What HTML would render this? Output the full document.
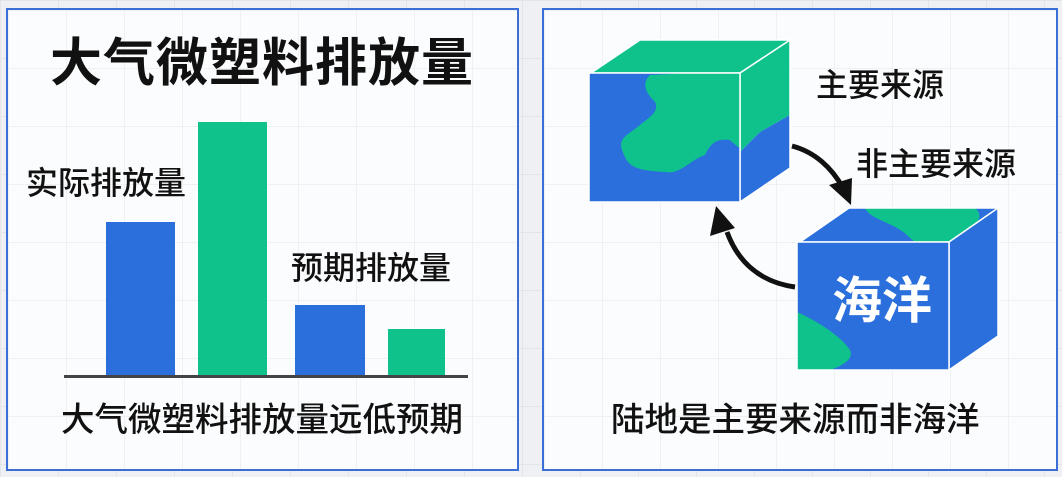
<!DOCTYPE html>
<html><head><meta charset="utf-8"><style>
html,body{margin:0;padding:0;}
body{width:1062px;height:477px;position:relative;overflow:hidden;background:#eef0f3;
background-image:linear-gradient(#e2e4e8 1px,transparent 1px),linear-gradient(90deg,#e2e4e8 1px,transparent 1px);background-size:58px 58px;
font-family:"Liberation Sans","Noto Sans CJK SC",sans-serif;}
.panel{position:absolute;border:2px solid #3a70d6;background:#fbfcfd;
background-image:linear-gradient(#eef0f2 1px,transparent 1px),linear-gradient(90deg,#eef0f2 1px,transparent 1px);background-size:58px 58px;box-sizing:border-box;}
.t{position:absolute;white-space:nowrap;color:#111;line-height:1;font-weight:500;}
.bar{position:absolute;}
</style></head><body>
<div class="panel" style="left:6px;top:8px;width:513px;height:463px"></div>
<div class="panel" style="left:542px;top:8px;width:516px;height:463px"></div>

<div class="t" style="left:50px;top:38px;font-size:52px;font-weight:bold;letter-spacing:1px">大气微塑料排放量</div>
<div class="bar" style="left:106px;top:222px;width:69px;height:154px;background:#2a6fdb"></div>
<div class="bar" style="left:198px;top:122px;width:69px;height:254px;background:#0fc28b"></div>
<div class="bar" style="left:295px;top:305px;width:70px;height:71px;background:#2a6fdb"></div>
<div class="bar" style="left:388px;top:329px;width:57px;height:47px;background:#0fc28b"></div>
<div class="bar" style="left:64px;top:375px;width:404px;height:3px;background:#444"></div>
<div class="t" style="left:26px;top:167px;font-size:32px">实际排放量</div>
<div class="t" style="left:291px;top:252px;font-size:32px">预期排放量</div>
<div class="t" style="left:61px;top:404px;font-size:33.5px">大气微塑料排放量远低预期</div>

<svg style="position:absolute;left:0;top:0" width="1062" height="477">
<defs>
<clipPath id="f1"><rect x="589" y="73" width="151" height="129"/></clipPath>
<clipPath id="f2"><rect x="797" y="242" width="152" height="128"/></clipPath>
</defs>
<polygon points="591,73 640,40 790,40 740,73" fill="#0fc28b" stroke="#fff" stroke-width="1.5"/>
<polygon points="740,73 790,40 790,115 760,132 740,152" fill="#0fc28b"/>
<polygon points="740,152 760,132 790,115 790,168 740,202" fill="#2a6fdb"/>
<polygon points="740,73 790,40 790,168 740,202" fill="none" stroke="#fff" stroke-width="1.5"/>
<rect x="589" y="73" width="151" height="129" fill="#2a6fdb"/>
<path clip-path="url(#f1)" d="M650,75 C640,85 648,95 655,102 C660,112 648,118 640,125 C628,135 618,138 622,150 C628,165 630,170 665,172 C680,175 690,160 705,155 C710,145 715,138 730,140 C740,150 745,150 750,150 L750,70 Z" fill="#0fc28b"/>
<rect x="589" y="73" width="151" height="129" fill="none" stroke="#fff" stroke-width="1.5"/>
<polygon points="800,242 849,208 998,208 949,242" fill="#2a6fdb"/>
<path d="M865,208 C870,220 895,222 910,238 L915,242 L949,242 L975,224 C985,215 975,208 975,208 Z" fill="#0fc28b"/>
<polygon points="800,242 849,208 998,208 949,242" fill="none" stroke="#fff" stroke-width="1.5"/>
<polygon points="949,242 998,208 998,336 949,370" fill="#2a6fdb" stroke="#fff" stroke-width="1.5"/>
<rect x="797" y="242" width="152" height="128" fill="#2a6fdb"/>
<path clip-path="url(#f2)" d="M797,312 C815,320 840,335 850,350 C855,362 835,368 825,372 L790,372 Z" fill="#0fc28b"/>
<rect x="797" y="242" width="152" height="128" fill="none" stroke="#fff" stroke-width="1.5"/>
<text x="882" y="318" text-anchor="middle" font-size="50" font-weight="bold" fill="#fff" font-family="Liberation Sans,Noto Sans CJK SC,sans-serif">海洋</text>
<path d="M792,146 C815,152 832,168 843,188" fill="none" stroke="#111" stroke-width="5"/>
<polygon points="829,185 852,178 851,205" fill="#111"/>
<path d="M795,287 C760,282 738,262 727,232" fill="none" stroke="#111" stroke-width="5"/>
<polygon points="710,236 716,206 735,228" fill="#111"/>
</svg>

<div class="t" style="left:816px;top:69px;font-size:32px">主要来源</div>
<div class="t" style="left:856px;top:148px;font-size:32px">非主要来源</div>
<div class="t" style="left:611px;top:404px;font-size:33.5px">陆地是主要来源而非海洋</div>
</body></html>
